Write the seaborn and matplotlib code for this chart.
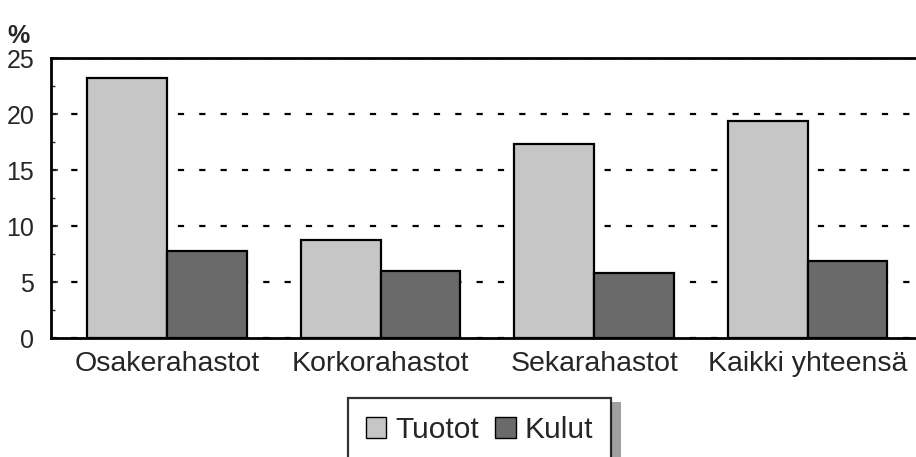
import matplotlib
matplotlib.use("Agg")
import matplotlib.pyplot as plt
import seaborn as sns
import pandas as pd
import numpy as np
from matplotlib.patches import Rectangle
from matplotlib.ticker import MultipleLocator

categories = ["Osakerahastot", "Korkorahastot", "Sekarahastot", "Kaikki yhteensä"]
series_names = ["Tuotot", "Kulut"]
tuotot = [23.2, 8.8, 17.3, 19.4]
kulut = [7.8, 6.0, 5.8, 6.9]
y_ticks = [0, 5, 10, 15, 20, 25]

df = pd.DataFrame({
    "cat": categories * 2,
    "val": tuotot + kulut,
    "series": [series_names[0]] * 4 + [series_names[1]] * 4,
})

sns.set_style("white")
plt.rcParams["font.family"] = ["Liberation Sans", "DejaVu Sans"]

fig = plt.figure(figsize=(9.16, 4.57), dpi=100)
ax = fig.add_axes([51 / 916, 1 - 338.3 / 457, 1 - 51 / 916, (338.3 - 58) / 457])

sns.barplot(data=df, x="cat", y="val", hue="series", order=categories,
            hue_order=series_names, palette=["#c6c6c6", "#6a6a6a"],
            saturation=1, width=0.746, edgecolor="black", linewidth=1.6,
            ax=ax, legend=False, zorder=3)

ax.set_xlim(-0.543, 3.507)
ax.set_ylim(0, 25)
ax.set_yticks(y_ticks)
ax.set_yticklabels([str(t) for t in y_ticks], fontsize=18)
ax.yaxis.set_minor_locator(MultipleLocator(2.5))
ax.tick_params(axis="y", which="major", direction="in", length=5, width=1.2, pad=12, left=True)
ax.tick_params(axis="y", which="minor", direction="in", length=3, width=1, left=True)
ax.tick_params(axis="x", length=0, pad=9, labelsize=20.5)
ax.set_xlabel("")
ax.set_ylabel("")

ax.yaxis.grid(True, which="major", linestyle=(0.5, (2.8, 6.8)), color="black", linewidth=1.6)
ax.set_axisbelow(True)

for side in ["top", "left", "bottom"]:
    ax.spines[side].set_visible(True)
    ax.spines[side].set_color("black")
    ax.spines[side].set_linewidth(2)
ax.spines["right"].set_visible(False)

fig.text(7 / 916, 1 - 36 / 457, "%", fontsize=18, fontweight="bold", va="center", ha="left")

handles = [Rectangle((0, 0), 1, 1, facecolor=c, edgecolor="black", linewidth=1)
           for c in ["#c6c6c6", "#6a6a6a"]]
leg = fig.legend(handles, series_names, loc="upper left",
                 bbox_to_anchor=(348 / 916, 1 - 398 / 457), ncol=2,
                 fontsize=21.5, frameon=True, fancybox=False,
                 handlelength=0.68, handleheight=0.68, handletextpad=0.3,
                 columnspacing=0.55, borderpad=0.6, borderaxespad=0)
leg.get_frame().set_edgecolor("black")
leg.get_frame().set_linewidth(1.6)
leg.get_frame().set_facecolor("white")

fig.canvas.draw()
bb = leg.get_window_extent().transformed(fig.transFigure.inverted())
sh = Rectangle((bb.x1, bb.y0 - 0.05), 10 / 916, bb.height + 0.05 - 4 / 457,
               transform=fig.transFigure, facecolor="#a0a0a0", edgecolor="none", zorder=0)
fig.patches.append(sh)

fig.savefig("out.png", dpi=100)
